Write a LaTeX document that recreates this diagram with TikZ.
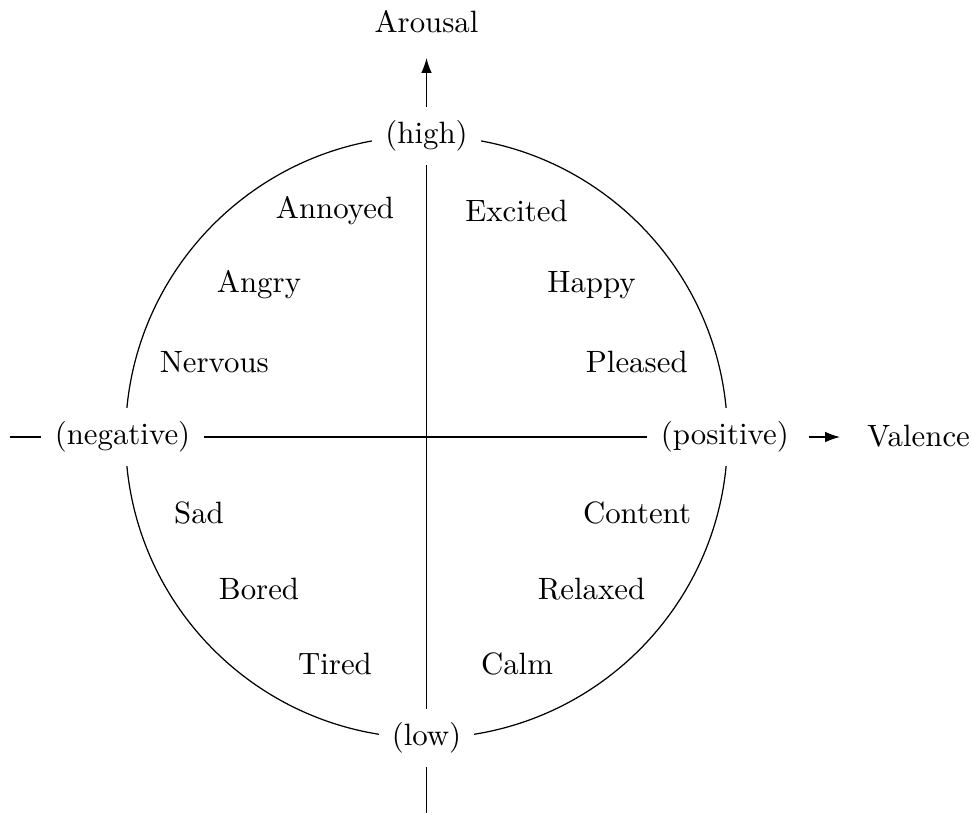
\documentclass[tikz,border=0pt]{standalone}
\usetikzlibrary{arrows.meta}
\begin{document}
\begin{tikzpicture}[x=0.3243pt,y=-0.3243pt,
  axislabel/.style={fill=white, inner sep=4.3pt},
  axisname/.style={inner sep=0pt},
  mood/.style={inner sep=0pt},
  axisarrow/.style={-{Latex[length=4.8pt,width=3.4pt]}}]
\useasboundingbox (0,0) rectangle (971,814);

% circumplex circle
\coordinate (o) at (426.5,437);
\draw (o) circle [radius=301];

% pole labels sitting on the circle
\node[axislabel] (high) at (426.5,136) {(high)};
\node[axislabel] (low)  at (426.5,738) {(low)};
\node[axislabel] (neg)  at (122.5,437) {(negative)};
\node[axislabel] (pos)  at (724.8,437) {(positive)};

% axis names and free line ends
\node[axisname, anchor=base] (arousal) at (426.5,32.3) {Arousal};
\node[axisname, anchor=base west] (valence) at (866.5,446.7) {Valence};
\coordinate (atip) at (426.5,58);
\coordinate (vtip) at (840,437);
\coordinate (lend) at (10,437);
\coordinate (bend) at (426.5,813);

% axes
\draw (neg) -- (pos);
\draw (low) -- (high);
\draw[axisarrow] (high) -- (atip);
\draw[axisarrow, shorten <=2pt] (pos) -- (vtip);
\draw (neg) -- (lend);
\draw (low) -- (bend);

% emotions, upper half
\node[mood] (annoyed) at (335,211)   {Annoyed};
\node[mood] (excited) at (516.5,211) {Excited};
\node[mood] (angry)   at (259,284.7) {Angry};
\node[mood] (happy)   at (591.5,284.7) {Happy};
\node[mood] (nervous) at (214.3,361.8) {Nervous};
\node[mood] (pleased) at (636.8,361.8) {Pleased};

% emotions, lower half
\node[mood] (sad)     at (199,513)   {Sad};
\node[mood] (content) at (637,513)   {Content};
\node[mood] (bored)   at (259,589)   {Bored};
\node[mood] (relaxed) at (591.5,589) {Relaxed};
\node[mood] (tired)   at (335,664.4) {Tired};
\node[mood] (calm)    at (517,664.4) {Calm};
\end{tikzpicture}
\end{document}
